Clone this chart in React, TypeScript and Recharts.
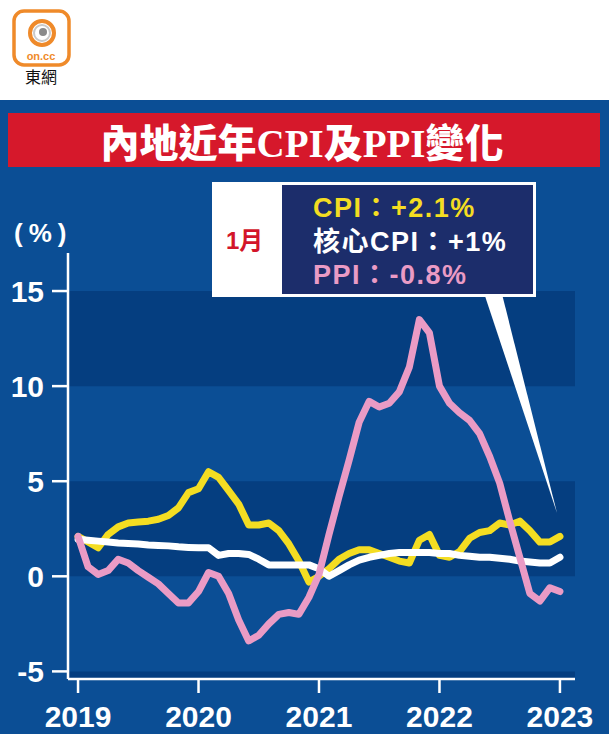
import React from 'react';
import { LineChart, Line, XAxis, YAxis, ReferenceArea } from 'recharts';

// Monthly values, Jan 2019 .. Jan 2023
const cpi = [
  2.1, 1.8, 1.5, 2.2, 2.6, 2.8, 2.85, 2.9, 3.0, 3.2, 3.6, 4.4,
  4.6, 5.5, 5.2, 4.5, 3.8, 2.7, 2.7, 2.8, 2.4, 1.7, 0.8, -0.3,
  0.0, 0.4, 0.9, 1.2, 1.4, 1.4, 1.2, 1.0, 0.8, 0.7, 1.9, 2.2,
  1.1, 1.0, 1.3, 2.0, 2.3, 2.4, 2.8, 2.7, 2.9, 2.4, 1.8, 1.8,
  2.1,
];
const coreCpi = [
  1.95, 1.9, 1.85, 1.8, 1.75, 1.72, 1.7, 1.65, 1.62, 1.6, 1.55, 1.52,
  1.5, 1.5, 1.1, 1.2, 1.2, 1.15, 0.9, 0.6, 0.6, 0.6, 0.6, 0.6,
  0.4, 0.0, 0.3, 0.6, 0.85, 1.0, 1.1, 1.2, 1.25, 1.25, 1.25, 1.25,
  1.2, 1.2, 1.1, 1.05, 1.0, 1.0, 0.95, 0.9, 0.8, 0.75, 0.7, 0.7,
  1.0,
];
const ppi = [
  2.1, 0.5, 0.1, 0.3, 0.9, 0.7, 0.3, -0.05, -0.4, -0.9, -1.4, -1.4,
  -0.8, 0.2, 0.0, -0.9, -2.3, -3.4, -3.1, -2.5, -2.0, -1.9, -2.0, -1.1,
  0.1, 2.2, 4.2, 6.1, 8.1, 9.2, 8.9, 9.1, 9.7, 11.0, 13.5, 12.8,
  10.0, 9.1, 8.6, 8.2, 7.5, 6.3, 4.9, 2.9, 1.0, -0.9, -1.3, -0.6,
  -0.8,
];
const yearLabels = ['2019', '2020', '2021', '2022', '2023'];
const yearTickIdx = [0, 12, 24, 36, 48];
const yTicks = [-5, 0, 5, 10, 15];
const darkBands: [number, number][] = [[10, 15], [0, 5], [-5.4, -5]];

const calloutMonth = '1月';
const calloutLines = ['CPI：+2.1%', '核心CPI：+1%', 'PPI：-0.8%'];
const title = '內地近年CPI及PPI變化';

const data = cpi.map((v, i) => ({ i, cpi: v, core: coreCpi[i], ppi: ppi[i] }));

const BG = '#0b4e95';
const BAND = '#053e80';
const YELLOW = '#f4dd22';
const PINK = '#ea9bc5';
const SANS = "'Liberation Sans', Arial, 'Noto Sans CJK TC', sans-serif";

export default function App() {
  return (
    <div style={{ position: 'absolute', left: 0, top: 0, width: 609, height: 734, background: BG, overflow: 'hidden' }}>
      <div style={{ position: 'absolute', left: 0, top: 0, width: 609, height: 100, background: '#ffffff' }} />
      <div style={{ position: 'absolute', left: 0, top: 0 }}>
        <LineChart width={609} height={734} data={data} margin={{ top: 253, right: 34, bottom: 0, left: 0 }}>
          {darkBands.map(([a, b], k) => (
            <ReferenceArea key={k} y1={a} y2={b} fill={BAND} fillOpacity={1} stroke="none" ifOverflow="hidden" />
          ))}
          <XAxis
            type="number"
            dataKey="i"
            domain={[-1, 49.5]}
            allowDataOverflow
            ticks={yearTickIdx}
            tickFormatter={(v: number) => yearLabels[yearTickIdx.indexOf(v)]}
            height={55}
            axisLine={{ stroke: '#fff', strokeWidth: 2.5 }}
            tickLine={{ stroke: '#fff', strokeWidth: 2.5 }}
            tickSize={14}
            tickMargin={13}
            tick={{ fill: '#fff', fontSize: 30, fontWeight: 700, fontFamily: SANS }}
            interval={0}
          />
          <YAxis
            type="number"
            domain={[-5.4, 17]}
            ticks={yTicks}
            allowDataOverflow
            width={68}
            axisLine={{ stroke: '#fff', strokeWidth: 2.5 }}
            tickLine={{ stroke: '#fff', strokeWidth: 2.5 }}
            tickSize={16}
            tickMargin={8}
            tick={{ fill: '#fff', fontSize: 30, fontWeight: 700, fontFamily: SANS }}
            interval={0}
          />
          <Line type="linear" dataKey="cpi" stroke={YELLOW} strokeWidth={7} dot={false} isAnimationActive={false} strokeLinejoin="round" strokeLinecap="round" />
          <Line type="linear" dataKey="core" stroke="#ffffff" strokeWidth={7} dot={false} isAnimationActive={false} strokeLinejoin="round" strokeLinecap="round" />
          <Line type="linear" dataKey="ppi" stroke={PINK} strokeWidth={7} dot={false} isAnimationActive={false} strokeLinejoin="round" strokeLinecap="round" />
        </LineChart>
      </div>
      <svg width={609} height={734} style={{ position: 'absolute', left: 0, top: 0, pointerEvents: 'none' }}>
        {/* logo */}
        <rect x={14} y={11} width={55} height={54} rx={10} fill="#fff" stroke="#ef8a2a" strokeWidth={3.5} />
        <circle cx={42} cy={33} r={12} fill="none" stroke="#ef8a2a" strokeWidth={4} />
        <circle cx={42} cy={33} r={8} fill="#fff" stroke="#c9c9c9" strokeWidth={2} />
        <circle cx={43} cy={32} r={4} fill="#8a8a8a" />
        <text x={41} y={60} textAnchor="middle" fontSize={11} fontWeight={700} fill="#ef8a2a" fontFamily={SANS}>on.cc</text>
        <text x={41} y={83} textAnchor="middle" fontSize={16} fill="#111" fontFamily="'Noto Sans CJK TC', sans-serif">東網</text>
        {/* title */}
        <rect x={8} y={113} width={592} height={54} fill="#d6182b" />
        <text x={302} y={157} textAnchor="middle" fontSize={39} fontWeight={900} fill="#fff" fontFamily="'Liberation Serif', 'Noto Sans CJK TC', serif">{title}</text>
        {/* unit */}
        <text x={14} y={242} fontSize={26} fontWeight={700} fill="#fff" fontFamily={SANS} letterSpacing={6}>(%)</text>
        {/* callout */}
        <polygon points="483,290 501,290 557,513" fill="#fff" />
        <rect x={212} y={182} width={324} height={115} fill="#fff" />
        <rect x={282} y={185} width={251} height={109} fill="#1c2d6b" />
        <text x={226} y={249} fontSize={24} fontWeight={700} fill="#d3152a" fontFamily={SANS}>{calloutMonth}</text>
        <text x={313} y={217} fontSize={27} fontWeight={700} fill={YELLOW} fontFamily={SANS} letterSpacing={1.5}>{calloutLines[0]}</text>
        <text x={313} y={251} fontSize={27} fontWeight={700} fill="#fff" fontFamily={SANS} letterSpacing={1.5}>{calloutLines[1]}</text>
        <text x={313} y={284} fontSize={27} fontWeight={700} fill={PINK} fontFamily={SANS} letterSpacing={1.5}>{calloutLines[2]}</text>
      </svg>
    </div>
  );
}
